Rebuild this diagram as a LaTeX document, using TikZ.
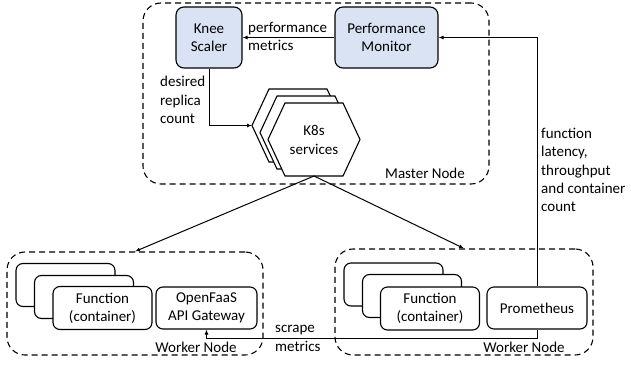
\documentclass[tikz,border=0pt]{standalone}
\usepackage{fontspec}
\setmainfont{Carlito}
\usetikzlibrary{arrows.meta}
\definecolor{boxblue}{HTML}{DAE3F3}
\begin{document}
\begin{tikzpicture}[x=1pt,y=-1pt,
  every node/.style={font=\fontsize{15}{18.3}\selectfont, inner sep=0pt},
  dashbox/.style={draw, dashed, dash pattern=on 6pt off 4pt, line width=1.1pt, rounded corners=18pt},
  bluebox/.style={draw, line width=1.1pt, fill=boxblue, rounded corners=8pt, align=center},
  whitebox/.style={draw, line width=1.1pt, fill=white, rounded corners=7pt, align=center},
  arr/.style={line width=1pt, -{Latex[length=5pt,width=4pt]}},
  lbl/.style={align=left, anchor=west}]
\useasboundingbox (0,0) rectangle (631,364);

% container boxes
\node[dashbox, minimum width=346pt, minimum height=181pt] (master) at (316,93.5) {};
\node[dashbox, minimum width=256pt, minimum height=103pt] (lw) at (135,303.5) {};
\node[dashbox, minimum width=258pt, minimum height=106pt] (rw) at (464,302) {};
\node (mlabel) at (425,173.5) {Master Node};
\node (lwlabel) at (196,347.5) {Worker Node};
\node (rwlabel) at (524,347) {Worker Node};

% master components
\node[bluebox, minimum width=66pt, minimum height=61pt] (ks) at (209,37.5) {Knee\\Scaler};
\node[bluebox, minimum width=103pt, minimum height=61pt] (pm) at (386.5,37.5) {Performance\\Monitor};

% K8s services hexagons
\foreach \n/\dx/\dy in {b/-16/-14, m/-8/-7, f/0/0} {
  \begin{scope}[shift={(\dx,\dy)}]
    \coordinate (h\n1) at (285,103);
    \coordinate (h\n2) at (343,103);
    \coordinate (h\n3) at (360,139.5);
    \coordinate (h\n4) at (343,176);
    \coordinate (h\n5) at (285,176);
    \coordinate (h\n6) at (268,139.5);
    \draw[line width=1.1pt, fill=white] (h\n1) -- (h\n2) -- (h\n3) -- (h\n4) -- (h\n5) -- (h\n6) -- cycle;
  \end{scope}
}
\coordinate (hbot) at (314,176);
\node[align=center] (k8s) at (314,140) {K8s\\services};

% left worker
\node[whitebox, minimum width=99pt, minimum height=43pt] (lf3) at (65.5,285) {};
\node[whitebox, minimum width=99pt, minimum height=43pt] (lf2) at (84,297) {};
\node[whitebox, minimum width=99pt, minimum height=43pt] (lf1) at (102.5,308) {Function\\(container)};
\node[whitebox, minimum width=101pt, minimum height=42pt] (gw) at (206.5,308) {OpenFaaS\\API Gateway};

% right worker
\node[whitebox, minimum width=99pt, minimum height=43pt] (rf3) at (393.5,284.5) {};
\node[whitebox, minimum width=99pt, minimum height=43pt] (rf2) at (412,296) {};
\node[whitebox, minimum width=99pt, minimum height=43pt] (rf1) at (430,308.5) {Function\\(container)};
\node[whitebox, minimum width=100pt, minimum height=42pt] (prom) at (537,308) {Prometheus};

% connectors
\draw[arr] (pm.west) -- (ks.east);
\node[lbl] (pmlbl) at (248,36.5) {performance\\metrics};

\draw[arr] (ks.south) |- (hb6);
\node[lbl] (dlbl) at (160,100) {desired\\replica\\count};

\draw[arr] (hbot) -- (lw.north);
\draw[arr] (hbot) -- (rw.north);

\draw[arr] (prom.north) |- (pm.east);
\node[lbl] (flbl) at (541,170) {function\\latency,\\throughput\\and container\\count};

\coordinate (sc) at (537,338);
\draw[arr] (prom.south) -- (sc) -| (gw.south);
\node[lbl] (slbl) at (275,338.5) {scrape\\metrics};
\end{tikzpicture}
\end{document}
